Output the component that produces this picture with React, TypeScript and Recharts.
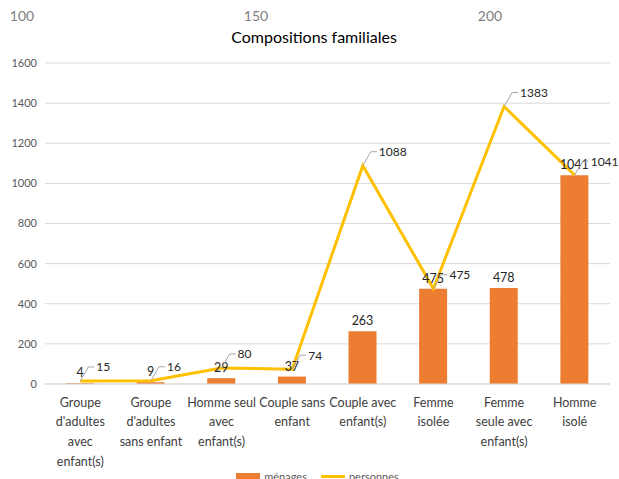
import {
  ComposedChart,
  Bar,
  Line,
  XAxis,
  YAxis,
  CartesianGrid,
  Legend,
  LabelList,
} from "recharts";

const categoryLines = [
  ["Groupe", "d'adultes", "avec", "enfant(s)"],
  ["Groupe", "d'adultes", "sans enfant"],
  ["Homme seul", "avec", "enfant(s)"],
  ["Couple sans", "enfant"],
  ["Couple avec", "enfant(s)"],
  ["Femme", "isolée"],
  ["Femme", "seule avec", "enfant(s)"],
  ["Homme", "isolé"],
];
const categories = categoryLines.map((l) => l.join(" "));
const menages = [4, 9, 29, 37, 263, 475, 478, 1041];
const personnes = [15, 16, 80, 74, 1088, 475, 1383, 1041];
const yTicks = [0, 200, 400, 600, 800, 1000, 1200, 1400, 1600];
const topTicks = [100, 150, 200];

const data = categories.map((name, i) => ({
  name,
  menages: menages[i],
  personnes: personnes[i],
}));

const FONT = "Lato, 'Noto Sans', sans-serif";

// stray top scale seen in the source picture
const topX = (v: number) => 22 + (v - 100) * 4.68;

function CategoryTick({ x, y, payload }: any) {
  const idx = categories.indexOf(payload.value);
  const lines = categoryLines[idx] || [payload.value];
  return (
    <g>
      {lines.map((t, i) => (
        <text
          key={i}
          x={x}
          y={y + 10 + i * 19.7}
          textAnchor="middle"
          dominantBaseline="central"
          fontSize={12.5}
          fontFamily={FONT}
          fill="#404040"
        >
          {t}
        </text>
      ))}
    </g>
  );
}

function LineLabel({ x, y, value }: any) {
  const dx = 8;
  const dy = -14;
  return (
    <g>
      <polyline
        points={`${x},${y} ${x + dx},${y + dy} ${x + dx + 6},${y + dy}`}
        fill="none"
        stroke="#a6a6a6"
        strokeWidth={1}
      />
      <text
        x={x + dx + 8}
        y={y + dy}
        dominantBaseline="central"
        fontSize={12}
        fontFamily={FONT}
        fill="#262626"
      >
        {value}
      </text>
    </g>
  );
}

function LegendContent() {
  return (
    <div
      style={{
        display: "flex",
        justifyContent: "center",
        alignItems: "center",
        fontFamily: FONT,
        fontSize: 11,
        color: "#595959",
        gap: 14,
      }}
    >
      <span style={{ display: "flex", alignItems: "center", gap: 4 }}>
        <span style={{ width: 24, height: 7, background: "#ED7D31" }} />
        ménages
      </span>
      <span style={{ display: "flex", alignItems: "center", gap: 4 }}>
        <span style={{ width: 24, height: 3, background: "#FFC000" }} />
        personnes
      </span>
    </div>
  );
}

export default function App() {
  return (
    <div style={{ position: "absolute", left: 0, top: 0, width: 619, height: 479, background: "#fff", overflow: "hidden" }}>
      {topTicks.map((t) => (
        <div
          key={t}
          style={{
            position: "absolute",
            top: 7,
            left: topX(t) - 20,
            width: 40,
            textAlign: "center",
            fontFamily: FONT,
            fontSize: 14,
            color: "#7f7f7f",
          }}
        >
          {t}
        </div>
      ))}
      <div
        style={{
          position: "absolute",
          top: 27,
          left: 0,
          width: 628,
          textAlign: "center",
          fontFamily: FONT,
          fontSize: 16,
          fontWeight: 400,
          color: "#000",
        }}
      >
        Compositions familiales
      </div>
      <ComposedChart
        width={619}
        height={479}
        data={data}
        margin={{ top: 63, right: 9, bottom: 10, left: 0 }}
      >
        <CartesianGrid vertical={false} stroke="#d9d9d9" />
        <XAxis
          dataKey="name"
          height={85}
          tickLine={false}
          axisLine={{ stroke: "#d9d9d9" }}
          interval={0}
          tick={<CategoryTick />}
        />
        <YAxis
          width={45}
          domain={[0, 1600]}
          ticks={yTicks}
          axisLine={false}
          tickLine={false}
          tickSize={0}
          tickMargin={8}
          tick={{ fontSize: 11, fill: "#595959", fontFamily: FONT }}
        />
        <Bar dataKey="menages" name="ménages" fill="#ED7D31" barSize={28} isAnimationActive={false}>
          <LabelList
            dataKey="menages"
            position="top"
            offset={6}
            fontSize={12.5}
            fontFamily={FONT}
            fill="#262626"
          />
        </Bar>
        <Line
          dataKey="personnes"
          name="personnes"
          stroke="#FFC000"
          strokeWidth={3}
          dot={false}
          activeDot={false}
          isAnimationActive={false}
          label={<LineLabel />}
        />
        <Legend
          verticalAlign="middle"
          layout="horizontal"
          content={<LegendContent />}
          wrapperStyle={{ top: 470, left: 8, width: 619 }}
        />
      </ComposedChart>
    </div>
  );
}
